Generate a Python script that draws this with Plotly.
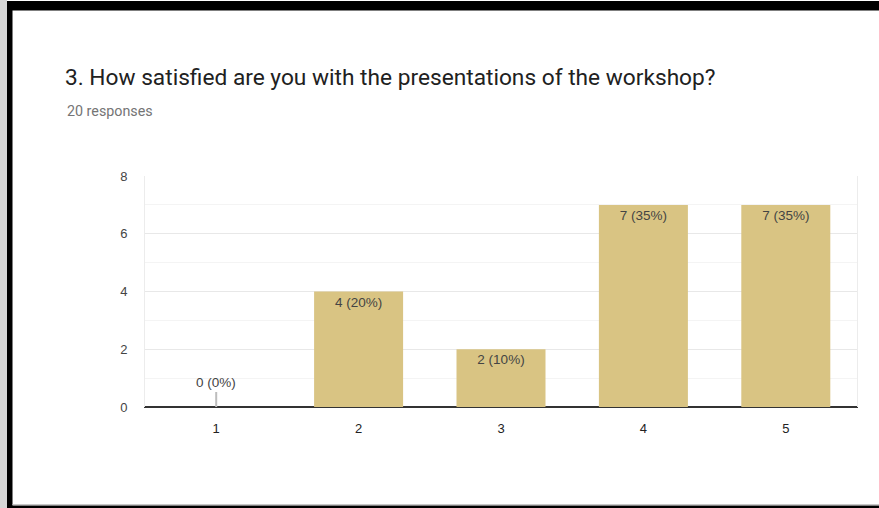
import plotly.graph_objects as go

categories = ["1", "2", "3", "4", "5"]
counts = [0, 4, 2, 7, 7]
total = 20
labels = [f"{c} ({round(c * 100 / total)}%)" for c in counts]
y_ticks = [0, 2, 4, 6, 8]

BAR = "#d9c483"
W, H = 879, 508
L, R, T, B = 145, 857, 176, 407  # plot area in px


def px_x(p):
    return (p - L) / (R - L)


def px_y(p):
    return (B - p) / (B - T)


fig = go.Figure()
fig.add_trace(go.Bar(
    x=categories, y=counts,
    marker=dict(color=BAR, line=dict(width=0)),
    text=[lab if c > 0 else "" for lab, c in zip(labels, counts)],
    textposition="inside", insidetextanchor="end",
    textfont=dict(family="Arial", size=13.5, color="#444444"),
    hoverinfo="skip", cliponaxis=False,
))

shapes = []
annotations = []
for i, (c, lab) in enumerate(zip(counts, labels)):
    if c == 0:
        shapes.append(dict(type="line", xref="x", yref="y", x0=i, x1=i,
                           ysizemode="pixel", yanchor=0, y0=0, y1=15,
                           line=dict(color="#bdbdbd", width=2)))
        annotations.append(dict(x=i, y=0, xref="x", yref="y", text=lab,
                                showarrow=False, yanchor="bottom", yshift=15,
                                font=dict(family="Arial", size=13.5, color="#444444")))

# frame decoration
shapes += [
    dict(type="rect", xref="paper", yref="paper", x0=px_x(0), x1=px_x(7), y0=px_y(508), y1=px_y(0),
         fillcolor="#d6d6d6", line=dict(width=0), layer="above"),
    dict(type="rect", xref="paper", yref="paper", x0=px_x(7), x1=px_x(12.5), y0=px_y(508), y1=px_y(1),
         fillcolor="#000000", line=dict(width=0), layer="above"),
    dict(type="rect", xref="paper", yref="paper", x0=px_x(7), x1=px_x(879), y0=px_y(10.5), y1=px_y(1),
         fillcolor="#000000", line=dict(width=0), layer="above"),
    dict(type="rect", xref="paper", yref="paper", x0=px_x(7), x1=px_x(879), y0=px_y(508), y1=px_y(505.5),
         fillcolor="#000000", line=dict(width=0), layer="above"),
    dict(type="line", xref="paper", yref="paper", x0=px_x(12.5), x1=px_x(879), y0=px_y(504.5), y1=px_y(504.5),
         line=dict(color="#c8c8c8", width=1), layer="above"),
]

annotations.append(dict(xref="paper", yref="paper", x=px_x(65), y=px_y(111), xanchor="left", yanchor="middle",
                        text="20 responses", showarrow=False,
                        font=dict(family="Roboto", size=14.3, color="#757575")))

fig.update_layout(
    width=W, height=H,
    margin=dict(l=L, r=W - R, t=T, b=H - B, pad=0),
    paper_bgcolor="white", plot_bgcolor="white",
    bargap=0.375, showlegend=False,
    title=dict(text="3. How satisfied are you with the presentations of the workshop?",
               xref="container", yref="container", x=65 / W, y=1 - 77 / H,
               xanchor="left", yanchor="middle",
               font=dict(family="Roboto", size=22.7, color="#212121")),
    shapes=shapes, annotations=annotations,
    xaxis=dict(type="category", showgrid=False, showline=True, linecolor="#333333", linewidth=1,
               ticks="", ticklabelstandoff=9, zeroline=False,
               tickfont=dict(family="Arial", size=13, color="#222222"), mirror=False),
    yaxis=dict(range=[0, 8], tickvals=y_ticks, showgrid=True, gridcolor="#e8e8e8", gridwidth=1,
               minor=dict(dtick=1, showgrid=True, gridcolor="#f4f4f4"),
               zeroline=True, zerolinecolor="#333333", zerolinewidth=1.5,
               showline=True, linecolor="#ececec", mirror=True,
               ticks="", ticklabelstandoff=14,
               tickfont=dict(family="Arial", size=13, color="#444444")),
)

fig.write_html("out.html", config={"displayModeBar": False},
               post_script="document.body.style.margin='0';document.body.style.overflow='hidden';")
